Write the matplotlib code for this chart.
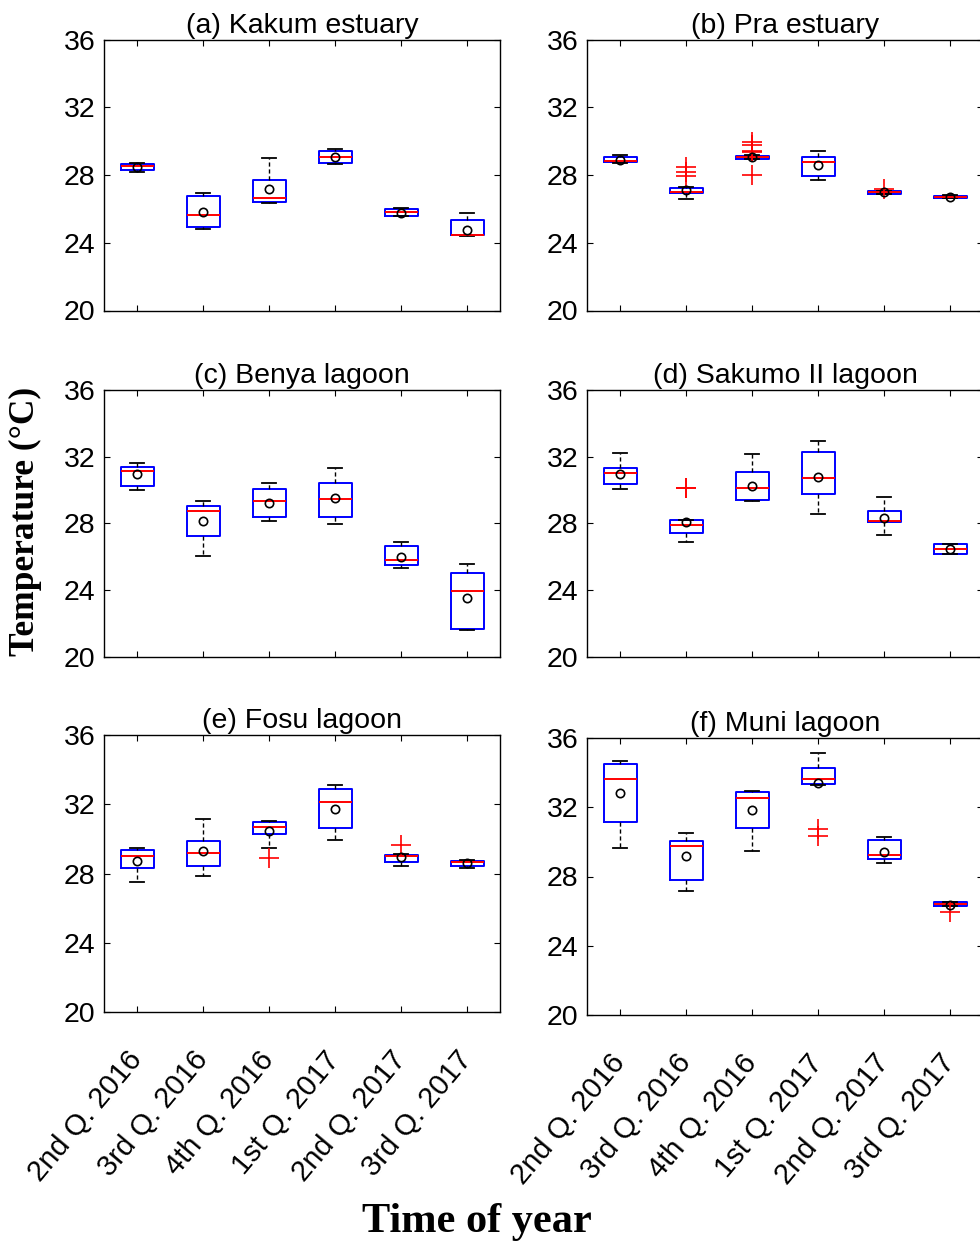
import matplotlib
matplotlib.use('Agg')
import matplotlib.pyplot as plt

plt.rcParams['font.family'] = ['Liberation Sans', 'DejaVu Sans']

titles = ['(a) Kakum estuary', '(b) Pra estuary', '(c) Benya lagoon',
          '(d) Sakumo II lagoon', '(e) Fosu lagoon', '(f) Muni lagoon']
quarters = ['2nd Q. 2016', '3rd Q. 2016', '4th Q. 2016',
            '1st Q. 2017', '2nd Q. 2017', '3rd Q. 2017']

# box statistics, one row per panel (a)-(f)
whislo = [[28.15, 24.84, 26.35, 28.64, 25.55, 24.37],
          [28.71, 26.60, 28.92, 27.68, 26.88, 26.64],
          [30.00, 26.04, 28.14, 27.98, 25.34, 21.60],
          [30.04, 26.90, 29.32, 28.58, 27.34, 26.16],
          [27.52, 27.83, 29.50, 29.95, 28.42, 28.33],
          [29.66, 27.19, 29.48, 33.26, 28.77, 26.30]]
q1 = [[28.32, 24.92, 26.39, 28.68, 25.57, 24.43],
      [28.75, 26.94, 28.95, 27.96, 26.90, 26.66],
      [30.24, 27.28, 28.36, 28.38, 25.52, 21.70],
      [30.36, 27.46, 29.38, 29.78, 28.08, 26.18],
      [28.29, 28.44, 30.29, 30.62, 28.69, 28.46],
      [31.12, 27.79, 30.81, 33.36, 29.00, 26.32]]
med = [[28.52, 25.65, 26.67, 29.07, 25.80, 24.48],
       [28.83, 27.01, 29.04, 28.75, 26.98, 26.72],
       [31.16, 28.72, 29.34, 29.48, 25.80, 23.96],
       [31.00, 27.92, 30.14, 30.70, 28.14, 26.50],
       [29.02, 29.21, 30.68, 32.13, 29.00, 28.66],
       [33.63, 29.79, 32.51, 33.63, 29.25, 26.44]]
q3 = [[28.62, 26.77, 27.69, 29.41, 26.00, 25.37],
      [29.06, 27.21, 29.14, 29.08, 27.05, 26.78],
      [31.40, 29.04, 30.08, 30.40, 26.66, 25.06],
      [31.30, 28.18, 31.06, 32.26, 28.72, 26.76],
      [29.33, 29.89, 30.95, 32.86, 29.08, 28.73],
      [34.50, 30.06, 32.86, 34.27, 30.08, 26.53]]
whishi = [[28.72, 26.93, 29.01, 29.56, 26.06, 25.76],
          [29.16, 27.27, 29.18, 29.44, 27.08, 26.80],
          [31.64, 29.34, 30.40, 31.32, 26.90, 25.56],
          [32.24, 28.20, 32.14, 32.94, 29.58, 26.78],
          [29.47, 31.14, 31.03, 33.13, 29.10, 28.77],
          [34.67, 30.49, 32.95, 35.15, 30.26, 26.55]]
means = [[28.46, 25.84, 27.16, 29.07, 25.76, 24.78],
         [28.89, 27.13, 29.06, 28.57, 26.98, 26.72],
         [30.94, 28.12, 29.24, 29.50, 26.00, 23.56],
         [30.94, 28.10, 30.26, 30.80, 28.30, 26.46],
         [28.75, 29.31, 30.47, 31.72, 28.98, 28.58],
         [32.84, 29.16, 31.86, 33.40, 29.39, 26.34]]
outliers = [[[], [], [], [], [], []],
            [[], [28.5, 28.2, 27.95], [29.95, 29.75, 29.4, 29.35, 28.0], [], [27.15], []],
            [[], [], [], [], [], []],
            [[], [30.14, 30.14], [], [], [], []],
            [[], [], [28.89], [], [29.64], []],
            [[], [], [], [30.76, 30.35], [], [25.96]]]

W, H = 980, 1245
fig = plt.figure(figsize=(W / 100, H / 100), dpi=100)

# axes rectangles in pixels: left, top, right, bottom
rects = [(104, 39.5, 500, 310.5), (587, 39.5, 983, 310.5),
         (104, 390, 500, 657), (587, 390, 983, 657),
         (104, 735, 500, 1012), (587, 738, 983, 1015)]

for k, (l, t, r, b) in enumerate(rects):
    ax = fig.add_axes([l / W, 1 - b / H, (r - l) / W, (b - t) / H])
    stats = []
    for i in range(6):
        stats.append(dict(whislo=whislo[k][i], q1=q1[k][i], med=med[k][i],
                          q3=q3[k][i], whishi=whishi[k][i], mean=means[k][i],
                          fliers=outliers[k][i]))
    ax.bxp(stats, positions=range(1, 7), widths=0.5, capwidths=0.22,
           showmeans=True,
           boxprops=dict(color='blue', linewidth=1.4),
           medianprops=dict(color='red', linewidth=1.4),
           whiskerprops=dict(color='black', linewidth=1.0, linestyle=(0, (3, 2))),
           capprops=dict(color='black', linewidth=1.3),
           flierprops=dict(marker='+', markeredgecolor='red', markersize=14,
                           markeredgewidth=1.2, linestyle='none'),
           meanprops=dict(marker='o', markerfacecolor='none',
                          markeredgecolor='black', markersize=6,
                          markeredgewidth=1.2))
    ax.set_xlim(0.5, 6.5)
    ax.set_ylim(20, 36)
    ax.set_yticks([20, 24, 28, 32, 36])
    ax.set_xticks(range(1, 7))
    ax.tick_params(direction='in', top=True, right=True, length=4, width=0.8,
                   labelsize=20.5, pad=6)
    for s in ax.spines.values():
        s.set_linewidth(1.0)
    ax.set_title(titles[k], fontsize=20.5, pad=5)
    if k >= 4:
        ax.set_xticklabels(quarters, rotation=50, ha='right', va='center',
                           rotation_mode='anchor', fontsize=21)
        ax.tick_params(axis='x', pad=31)
    else:
        ax.set_xticklabels([])

fig.text(25 / W, 1 - 521 / H, 'Temperature (°C)', rotation=90, ha='center',
         va='center', fontsize=25.5, fontweight='bold', family='Liberation Serif')
fig.text(477 / W, 1 - 1222 / H, 'Time of year', ha='center', va='center',
         fontsize=30.5, fontweight='bold', family='Liberation Serif')

fig.savefig('out.png', dpi=100)
